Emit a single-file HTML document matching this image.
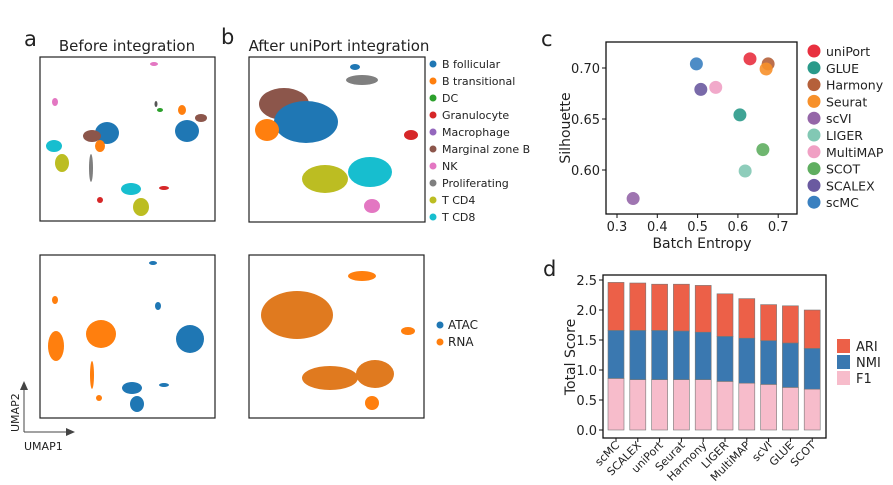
<!DOCTYPE html>
<html><head><meta charset="utf-8">
<style>
body{margin:0;background:#fff;font-family:"DejaVu Sans","Liberation Sans",sans-serif;}
svg{display:block}
text{font-family:"DejaVu Sans","Liberation Sans",sans-serif;fill:#222}
</style></head>
<body>
<svg id="fig" width="893" height="485" viewBox="0 0 893 485">
<text x="24" y="46" font-size="21">a</text>
<text x="127" y="51" font-size="15" text-anchor="middle">Before integration</text>
<text x="221" y="44" font-size="21">b</text>
<text x="339" y="51" font-size="15" text-anchor="middle">After uniPort integration</text>
<text x="541" y="46" font-size="21">c</text>
<text x="543" y="276" font-size="21">d</text>

<g>
 <rect x="40" y="57" width="175" height="164" fill="none" stroke="#222" stroke-width="1.2"/>
 <ellipse cx="154" cy="64" rx="4" ry="2" fill="#e377c2"/>
 <ellipse cx="55" cy="102" rx="3" ry="4" fill="#e377c2"/>
 <ellipse cx="160" cy="110" rx="3" ry="2" fill="#2ca02c"/><ellipse cx="156" cy="104" rx="1.5" ry="3" fill="#555"/>
 <ellipse cx="107" cy="133" rx="12" ry="11" fill="#1f77b4"/>
 <ellipse cx="92" cy="136" rx="9" ry="6" fill="#8c564b"/>
 <ellipse cx="100" cy="146" rx="5" ry="6" fill="#ff7f0e"/>
 <ellipse cx="54" cy="146" rx="8" ry="6" fill="#17becf"/>
 <ellipse cx="62" cy="163" rx="7" ry="9" fill="#bcbd22"/>
 <ellipse cx="91" cy="168" rx="2" ry="14" fill="#7f7f7f"/>
 <ellipse cx="100" cy="200" rx="3" ry="3" fill="#d62728"/>
 <ellipse cx="187" cy="131" rx="12" ry="11" fill="#1f77b4"/>
 <ellipse cx="182" cy="110" rx="4" ry="5" fill="#ff7f0e"/>
 <ellipse cx="201" cy="118" rx="6" ry="4" fill="#8c564b"/>
 <ellipse cx="131" cy="189" rx="10" ry="6" fill="#17becf"/>
 <ellipse cx="141" cy="207" rx="8" ry="9" fill="#bcbd22"/>
 <ellipse cx="164" cy="188" rx="5" ry="2" fill="#d62728"/>
</g>
<g>
 <rect x="249" y="57" width="176" height="165" fill="none" stroke="#222" stroke-width="1.2"/>
 <ellipse cx="355" cy="67" rx="5" ry="3" fill="#1f77b4"/>
 <ellipse cx="362" cy="80" rx="16" ry="5" fill="#7f7f7f"/>
 <ellipse cx="284" cy="104" rx="25" ry="16" fill="#8c564b"/>
 <ellipse cx="306" cy="122" rx="32" ry="21" fill="#1f77b4"/>
 <ellipse cx="267" cy="130" rx="12" ry="11" fill="#ff7f0e"/>
 <ellipse cx="411" cy="135" rx="7" ry="5" fill="#d62728"/>
 <ellipse cx="325" cy="179" rx="23" ry="14" fill="#bcbd22"/>
 <ellipse cx="370" cy="172" rx="22" ry="15" fill="#17becf"/>
 <ellipse cx="372" cy="206" rx="8" ry="7" fill="#e377c2"/>
</g>
<g>
 <rect x="40" y="255" width="175" height="163" fill="none" stroke="#222" stroke-width="1.2"/>
 <ellipse cx="153" cy="263" rx="4" ry="2" fill="#1f77b4"/>
 <ellipse cx="55" cy="300" rx="3" ry="4" fill="#ff7f0e"/>
 <ellipse cx="158" cy="306" rx="3" ry="4" fill="#1f77b4"/>
 <ellipse cx="101" cy="334" rx="15" ry="14" fill="#ff7f0e"/>
 <ellipse cx="56" cy="346" rx="8" ry="15" fill="#ff7f0e"/>
 <ellipse cx="92" cy="375" rx="2" ry="14" fill="#ff7f0e"/>
 <ellipse cx="99" cy="398" rx="3" ry="3" fill="#ff7f0e"/>
 <ellipse cx="190" cy="339" rx="14" ry="14" fill="#1f77b4"/>
 <ellipse cx="132" cy="388" rx="10" ry="6" fill="#1f77b4"/>
 <ellipse cx="137" cy="404" rx="7" ry="8" fill="#1f77b4"/>
 <ellipse cx="164" cy="385" rx="5" ry="2" fill="#1f77b4"/>
</g>
<g>
 <rect x="249" y="255" width="175" height="163" fill="none" stroke="#222" stroke-width="1.2"/>
 <ellipse cx="362" cy="276" rx="14" ry="5" fill="#ff7f0e"/>
 <ellipse cx="297" cy="315" rx="36" ry="24" fill="#e07a1f"/>
 <ellipse cx="408" cy="331" rx="7" ry="4" fill="#ff7f0e"/>
 <ellipse cx="330" cy="378" rx="28" ry="12" fill="#e07a1f"/>
 <ellipse cx="375" cy="374" rx="19" ry="14" fill="#e07a1f"/>
 <ellipse cx="372" cy="403" rx="7" ry="7" fill="#ff7f0e"/>
</g>

<g font-size="11">
 <g id="ctleg"></g>
</g>
<g>
 <circle cx="440" cy="325" r="3.5" fill="#1f77b4"/><text x="448" y="329" font-size="12">ATAC</text>
 <circle cx="440" cy="342" r="3.5" fill="#ff7f0e"/><text x="448" y="346" font-size="12">RNA</text>
</g>

<g>
 <line x1="24" y1="432" x2="24" y2="388" stroke="#444" stroke-width="1"/>
 <polygon points="20,390 28,390 24,381" fill="#444"/>
 <line x1="24" y1="432" x2="68" y2="432" stroke="#444" stroke-width="1"/>
 <polygon points="66,428 66,436 75,432" fill="#444"/>
 <text x="24" y="450" font-size="11" fill="#555">UMAP1</text>
 <text transform="translate(19,432) rotate(-90)" font-size="11" fill="#555">UMAP2</text>
</g>

<g id="panelc"></g>
<g id="paneld"></g>
</svg>
<script>
const NS="http://www.w3.org/2000/svg";
function mk(p,t,a){const e=document.createElementNS(NS,t);for(const k in a)e.setAttribute(k,a[k]);p.appendChild(e);return e;}

const cellTypes=["B follicular","B transitional","DC","Granulocyte","Macrophage","Marginal zone B","NK","Proliferating","T CD4","T CD8"];
const cellColors=["#1f77b4","#ff7f0e","#2ca02c","#d62728","#9467bd","#8c564b","#e377c2","#7f7f7f","#bcbd22","#17becf"];
const ct=document.getElementById('ctleg');
cellTypes.forEach((n,i)=>{
 const y=64+i*17;
 const c=mk(ct,'circle',{cx:433,cy:y,r:3.5,fill:cellColors[i]});
 
 
 const t=mk(ct,'text',{x:442,y:y+4,'font-size':11});t.textContent=n;
 
 
});

const methods=["uniPort","GLUE","Harmony","Seurat","scVI","LIGER","MultiMAP","SCOT","SCALEX","scMC"];
const methodColors=["#e8303f","#2a9a8a","#b5603a","#f7902a","#9566a8","#82c8b4","#f0a0c4","#5fae60","#6a5aa0","#3a80c0"];
const batchEntropy=[0.630,0.605,0.675,0.670,0.340,0.618,0.545,0.662,0.508,0.497];
const silhouette=[0.709,0.654,0.704,0.699,0.572,0.599,0.681,0.620,0.679,0.704];
const xTicks=[0.3,0.4,0.5,0.6,0.7];
const yTicks=[0.60,0.65,0.70];
const cx=v=>617+(v-0.3)*403, cy=v=>170-(v-0.6)*1020;
const pc=document.getElementById('panelc');
mk(pc,'rect',{x:606,y:42,width:191,height:172,fill:'none',stroke:'#111','stroke-width':1.3});
xTicks.forEach(v=>{mk(pc,'line',{x1:cx(v),x2:cx(v),y1:214,y2:218,stroke:'#111'});
 const t=mk(pc,'text',{x:cx(v),y:231,'font-size':13,'text-anchor':'middle'});t.textContent=v.toFixed(1);
 });
yTicks.forEach(v=>{mk(pc,'line',{x1:602,x2:606,y1:cy(v),y2:cy(v),stroke:'#111'});
 const t=mk(pc,'text',{x:600,y:cy(v)+5,'font-size':13,'text-anchor':'end'});t.textContent=v.toFixed(2);
 });
let t=mk(pc,'text',{x:702,y:248,'font-size':14,'text-anchor':'middle'});t.textContent="Batch Entropy";

t=mk(pc,'text',{transform:'translate(570,128) rotate(-90)','font-size':14,'text-anchor':'middle'});t.textContent="Silhouette";

methods.forEach((m,i)=>{
 const p=mk(pc,'circle',{cx:cx(batchEntropy[i]),cy:cy(silhouette[i]),r:6.5,fill:methodColors[i],opacity:0.9});
 
 
 const y=51+i*16.8;
 const l=mk(pc,'circle',{cx:814,cy:y,r:6.5,fill:methodColors[i]});
 
 
 const lt=mk(pc,'text',{x:826,y:y+5,'font-size':12.5});lt.textContent=m;
 
 
});

const barMethods=["scMC","SCALEX","uniPort","Seurat","Harmony","LIGER","MultiMAP","scVI","GLUE","SCOT"];
const f1=[0.86,0.84,0.84,0.84,0.84,0.81,0.78,0.76,0.71,0.68];
const nmi=[0.80,0.82,0.82,0.81,0.79,0.75,0.75,0.73,0.74,0.68];
const ari=[0.80,0.79,0.77,0.78,0.78,0.71,0.66,0.60,0.62,0.64];
const dTicks=[0.0,0.5,1.0,1.5,2.0,2.5];
const dy=v=>430-v*60, dx=i=>616+i*21.8;
const pd=document.getElementById('paneld');
mk(pd,'rect',{x:603,y:275,width:223,height:163,fill:'none',stroke:'#111','stroke-width':1.3});
dTicks.forEach(v=>{mk(pd,'line',{x1:599,x2:603,y1:dy(v),y2:dy(v),stroke:'#111'});
 const t=mk(pd,'text',{x:597,y:dy(v)+5,'font-size':13,'text-anchor':'end'});t.textContent=v.toFixed(1);
 });
t=mk(pd,'text',{transform:'translate(575,357) rotate(-90)','font-size':14,'text-anchor':'middle'});t.textContent="Total Score";

barMethods.forEach((m,i)=>{
 const segs=[[0,f1[i],'#f7bccb'],[f1[i],f1[i]+nmi[i],'#3a78b0'],[f1[i]+nmi[i],f1[i]+nmi[i]+ari[i],'#ec6048']];
 segs.forEach((s,j)=>{
  const r=mk(pd,'rect',{x:dx(i)-8,y:dy(s[1]),width:16,height:dy(s[0])-dy(s[1]),fill:s[2],stroke:'#777','stroke-width':0.6});
  
  
 });
 mk(pd,'line',{x1:dx(i),x2:dx(i),y1:438,y2:442,stroke:'#111'});
 const lt=mk(pd,'text',{transform:`translate(${dx(i)+4},446) rotate(-45)`,'font-size':11,'text-anchor':'end'});lt.textContent=m;
 
 
});
[["ARI",'#ec6048'],["NMI",'#3a78b0'],["F1",'#f7bccb']].forEach((e,i)=>{
 const y=346+i*16;
 const r=mk(pd,'rect',{x:837,y:y-7,width:13,height:14,fill:e[1]});
 
 
 const lt=mk(pd,'text',{x:856,y:y+5,'font-size':13});lt.textContent=e[0];
 
 
});
</script>
</body></html>
